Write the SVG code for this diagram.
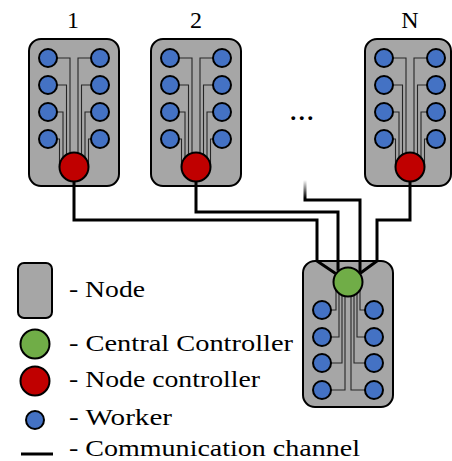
<svg xmlns="http://www.w3.org/2000/svg" width="452" height="461" viewBox="0 0 452 461">
<style>
.node{fill:#a6a6a6;stroke:#000;stroke-width:2}
.wk{fill:#4472c4;stroke:#000;stroke-width:2}
.nc{fill:#c00000;stroke:#000;stroke-width:2}
.cc{fill:#70ad47;stroke:#000;stroke-width:2}
.wire{fill:none;stroke:#262626;stroke-width:1.1}
.link{fill:none;stroke:#000;stroke-width:3;stroke-linejoin:miter}
text{font-family:"Liberation Serif","DejaVu Serif",serif;font-size:24px;fill:#000}
</style>
<defs>
<linearGradient id="fade" gradientUnits="userSpaceOnUse" x1="0" y1="180" x2="0" y2="198">
<stop offset="0" stop-color="#fff"/>
<stop offset="1" stop-color="#000"/>
</linearGradient>
</defs>
<rect width="452" height="461" fill="#fff"/>

<g id="node-1" transform="translate(74,0)">
<rect class="node" x="-45" y="39" width="90" height="147" rx="12"/>
<path class="wire" d="M-17,58H-4V167M-17,85H-7.5V167M-17,112H-11V167M-17,139H-14.5V167M17,58H4V167M17,85H7.5V167M17,112H11V167M17,139H14.5V167"/>
<circle class="wk" cx="-26" cy="58" r="9"/><circle class="wk" cx="-26" cy="85" r="9"/><circle class="wk" cx="-26" cy="112" r="9"/><circle class="wk" cx="-26" cy="139" r="9"/>
<circle class="wk" cx="26" cy="58" r="9"/><circle class="wk" cx="26" cy="85" r="9"/><circle class="wk" cx="26" cy="112" r="9"/><circle class="wk" cx="26" cy="139" r="9"/>
<circle class="nc" cx="0" cy="167" r="14.5"/>
<text font-family="Liberation Serif, DejaVu Serif, serif" x="-1" y="28" text-anchor="middle">1</text>
</g>

<g id="node-2" transform="translate(196,0)">
<rect class="node" x="-45" y="39" width="90" height="147" rx="12"/>
<path class="wire" d="M-17,58H-4V167M-17,85H-7.5V167M-17,112H-11V167M-17,139H-14.5V167M17,58H4V167M17,85H7.5V167M17,112H11V167M17,139H14.5V167"/>
<circle class="wk" cx="-26" cy="58" r="9"/><circle class="wk" cx="-26" cy="85" r="9"/><circle class="wk" cx="-26" cy="112" r="9"/><circle class="wk" cx="-26" cy="139" r="9"/>
<circle class="wk" cx="26" cy="58" r="9"/><circle class="wk" cx="26" cy="85" r="9"/><circle class="wk" cx="26" cy="112" r="9"/><circle class="wk" cx="26" cy="139" r="9"/>
<circle class="nc" cx="0" cy="167" r="14.5"/>
<text x="0" y="28" text-anchor="middle">2</text>
</g>

<g id="node-N" transform="translate(410,0)">
<rect class="node" x="-45" y="39" width="86" height="147" rx="12"/>
<path class="wire" d="M-17,58H-4V167M-17,85H-7.5V167M-17,112H-11V167M-17,139H-14.5V167M17,58H4V167M17,85H7.5V167M17,112H11V167M17,139H14.5V167"/>
<circle class="wk" cx="-26" cy="58" r="9"/><circle class="wk" cx="-26" cy="85" r="9"/><circle class="wk" cx="-26" cy="112" r="9"/><circle class="wk" cx="-26" cy="139" r="9"/>
<circle class="wk" cx="26" cy="58" r="9"/><circle class="wk" cx="26" cy="85" r="9"/><circle class="wk" cx="26" cy="112" r="9"/><circle class="wk" cx="26" cy="139" r="9"/>
<circle class="nc" cx="0" cy="167" r="14.5"/>
<text x="0" y="28" text-anchor="middle">N</text>
</g>

<text id="ellipsis" x="303" y="120" text-anchor="middle" font-weight="bold" letter-spacing="2.5">...</text>

<g id="central-node">
<rect class="node" x="303" y="261" width="90" height="146" rx="12"/>
<path class="wire" d="M331,310H336V282M331,337H339V282M331,363H342V282M331,390H345V282M365,310H360V282M365,337H357V282M365,363H354V282M365,390H351V282"/>
<circle class="wk" cx="322" cy="310" r="9"/><circle class="wk" cx="322" cy="337" r="9"/><circle class="wk" cx="322" cy="363" r="9"/><circle class="wk" cx="322" cy="390" r="9"/>
<circle class="wk" cx="374" cy="310" r="9"/><circle class="wk" cx="374" cy="337" r="9"/><circle class="wk" cx="374" cy="363" r="9"/><circle class="wk" cx="374" cy="390" r="9"/>
<circle class="cc" cx="348" cy="282" r="14.5"/>
</g>

<g id="connectors">
<path class="link" d="M74,182V220H317V261L335.6,273.6"/>
<path class="link" d="M196,182V212H338V270.8"/>
<path class="link" style="stroke:url(#fade)" d="M305,180V200H360V273"/>
<path class="link" d="M410,182V220H377V261L360.2,273.2"/>
</g>

<g id="legend">
<rect class="node" x="18" y="263" width="34" height="55" rx="6"/>
<circle class="cc" cx="35" cy="344" r="14.5"/>
<circle class="nc" cx="35" cy="381" r="14.5"/>
<circle class="wk" cx="35" cy="420" r="9"/>
<line x1="21" y1="454" x2="53" y2="454" stroke="#000" stroke-width="3"/>
<text x="69" y="297" textLength="76" lengthAdjust="spacingAndGlyphs">- Node</text>
<text x="69" y="351" textLength="224" lengthAdjust="spacingAndGlyphs">- Central Controller</text>
<text x="69" y="387" textLength="191" lengthAdjust="spacingAndGlyphs">- Node controller</text>
<text x="69" y="425" textLength="103" lengthAdjust="spacingAndGlyphs">- Worker</text>
<text x="69" y="456" textLength="291" lengthAdjust="spacingAndGlyphs">- Communication channel</text>
</g>
</svg>
